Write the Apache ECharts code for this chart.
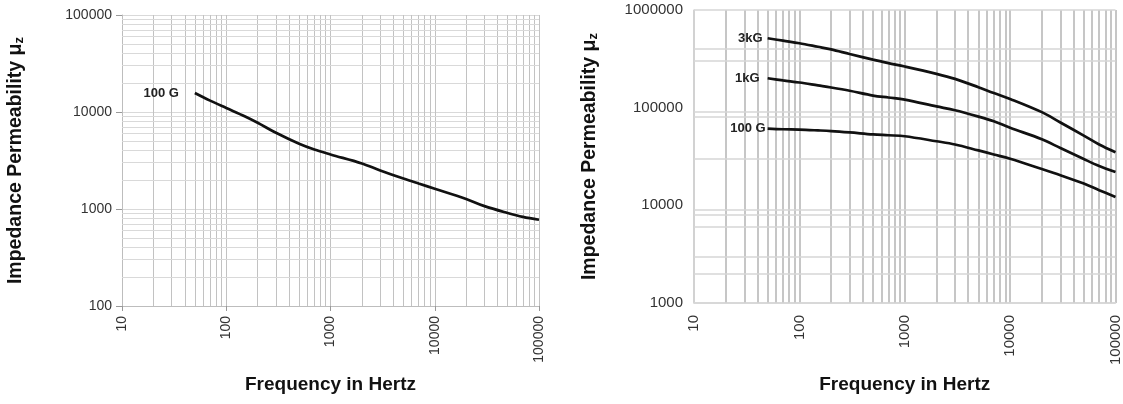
<!DOCTYPE html>
<html>
<head>
<meta charset="utf-8">
<script src="https://cdn.jsdelivr.net/npm/echarts@6/dist/echarts.min.js"></script>
<style>
  html, body { margin: 0; padding: 0; background: #fff; }
  #chart { width: 1123px; height: 404px; }
</style>
</head>
<body>
<div id="chart"></div>
<script>
// Frequencies (Hz) at which the permeability curves are sampled
const freqHz = [50, 70, 100, 150, 200, 300, 500, 700, 1000, 2000, 3000, 5000, 7000, 10000, 20000, 30000, 50000, 70000, 100000];

// Left panel: impedance permeability at 100 G
const left100G = [15700, 13100, 11000, 9050, 7750, 6100, 4700, 4100, 3650, 2950, 2500, 2060, 1830, 1620, 1270, 1070, 910, 830, 775];

// Right panel: impedance permeability at three flux levels
const right3kG  = [514000, 485000, 457000, 420000, 395000, 354000, 310000, 286000, 264000, 222000, 197000, 162000, 141000, 123000, 90000, 70500, 51800, 42000, 35000];
const right1kG  = [200000, 190000, 181000, 169000, 161000, 149000, 133000, 127000, 121000, 103000, 94000, 81000, 72500, 62300, 47500, 38600, 29800, 25300, 21900];
const right100G = [61000, 60100, 59600, 58500, 57600, 55800, 53300, 52200, 51000, 45300, 42000, 36500, 33200, 30000, 23500, 20300, 16700, 14300, 12200];

// Log-grid helpers
const minorSteps = [2, 3, 4, 5, 6, 7, 8, 9];
const freqDecades = [10, 100, 1000, 10000];
const leftPermDecades = [100, 1000, 10000];
// Horizontal rules printed on the right panel
const rightGridY = [1000000, 400000, 300000, 90000, 80000, 30000, 9000, 8000, 6000, 3000, 2000, 1000];

const FONT = 'Liberation Sans, Arial, sans-serif';

const minorOf = decades => decades.flatMap(d => minorSteps.map(m => d * m));
const pairs = (xs, ys) => xs.map((x, i) => [x, ys[i]]);
const plain = v => String(Math.round(v));

function curve(name, values, xi, labelDist) {
  return {
    name,
    type: 'line',
    xAxisIndex: xi,
    yAxisIndex: xi,
    data: pairs(freqHz, values),
    smooth: 0.35,
    showSymbol: true,
    symbol: 'circle',
    symbolSize: 0,
    z: 3,
    lineStyle: { color: '#111', width: 2.7 },
    itemStyle: { color: '#111' },
    label: {
      show: true,
      position: 'left',
      distance: labelDist,
      fontFamily: FONT,
      fontSize: 13,
      fontWeight: 'bold',
      color: '#222',
      formatter: p => (p.dataIndex === 0 ? name : '')
    },
    animation: false
  };
}

function gridRules(xVals, xStyle, yVals, yStyle) {
  return {
    silent: true,
    symbol: ['none', 'none'],
    label: { show: false },
    animation: false,
    z: 1,
    lineStyle: { type: 'solid' },
    data: [
      ...xVals.map(v => ({ xAxis: v, lineStyle: xStyle })),
      ...yVals.map(v => ({ yAxis: v, lineStyle: yStyle }))
    ]
  };
}

const yNameStyle = {
  fontFamily: FONT,
  fontSize: 19.5,
  fontWeight: 'bold',
  color: '#111',
  rich: {
    sub: { fontFamily: FONT, fontSize: 13, fontWeight: 'bold', color: '#111', padding: [7, 0, 0, 0] }
  }
};
const xNameStyle = { fontFamily: FONT, fontSize: 19, fontWeight: 'bold', color: '#111' };

const leftCurve = curve('100 G', left100G, 0, 16);
leftCurve.markLine = gridRules(
  minorOf(freqDecades), { color: '#c2c2c2', width: 1 },
  minorOf(leftPermDecades), { color: '#d9d9d9', width: 1 }
);

const r3 = curve('3kG', right3kG, 1, 5);
r3.markLine = gridRules(
  minorOf(freqDecades), { color: '#b3b3b3', width: 1.5 },
  rightGridY, { color: '#d6d6d6', width: 1.5 }
);

const option = {
  backgroundColor: '#fff',
  grid: [
    { left: 122, top: 15, width: 417, height: 291 },
    { left: 694, top: 10, width: 423, height: 293 }
  ],
  xAxis: [
    {
      gridIndex: 0, type: 'log', logBase: 10, min: 10, max: 100000,
      name: 'Frequency in Hertz', nameLocation: 'middle', nameGap: 69, nameTextStyle: xNameStyle,
      axisLine: { show: true, lineStyle: { color: '#bdbdbd', width: 1 } },
      axisTick: { show: true, length: 5, lineStyle: { color: '#999' } },
      axisLabel: { rotate: 90, fontFamily: FONT, fontSize: 14, color: '#333', margin: 10, formatter: plain },
      splitLine: { show: true, lineStyle: { color: '#c2c2c2', width: 1 } },
      minorTick: { show: false }, minorSplitLine: { show: false }
    },
    {
      gridIndex: 1, type: 'log', logBase: 10, min: 10, max: 100000,
      name: 'Frequency in Hertz', nameLocation: 'middle', nameGap: 72, nameTextStyle: xNameStyle,
      axisLine: { show: true, lineStyle: { color: '#d6d6d6', width: 1.5 } },
      axisTick: { show: false },
      axisLabel: { rotate: 90, fontFamily: FONT, fontSize: 15, color: '#333', margin: 12, formatter: plain },
      splitLine: { show: true, lineStyle: { color: '#b3b3b3', width: 1.5 } },
      minorTick: { show: false }, minorSplitLine: { show: false }
    }
  ],
  yAxis: [
    {
      gridIndex: 0, type: 'log', logBase: 10, min: 100, max: 100000,
      name: 'Impedance Permeability μ{sub|z}', nameLocation: 'middle', nameRotate: 90, nameGap: 96,
      nameTextStyle: yNameStyle,
      axisLine: { show: true, lineStyle: { color: '#bdbdbd', width: 1 } },
      axisTick: { show: true, length: 6, lineStyle: { color: '#999' } },
      axisLabel: { fontFamily: FONT, fontSize: 14, color: '#333', margin: 10, formatter: plain },
      splitLine: { show: true, lineStyle: { color: '#d9d9d9', width: 1 } },
      minorTick: { show: false }, minorSplitLine: { show: false }
    },
    {
      gridIndex: 1, type: 'log', logBase: 10, min: 1000, max: 1000000,
      name: 'Impedance Permeability μ{sub|z}', nameLocation: 'middle', nameRotate: 90, nameGap: 94,
      nameTextStyle: yNameStyle,
      axisLine: { show: true, lineStyle: { color: '#d6d6d6', width: 1.5 } },
      axisTick: { show: false },
      axisLabel: { fontFamily: FONT, fontSize: 15, color: '#333', margin: 11, formatter: plain },
      splitLine: { show: false },
      minorTick: { show: false }, minorSplitLine: { show: false }
    }
  ],
  series: [
    leftCurve,
    r3,
    curve('1kG', right1kG, 1, 8),
    curve('100 G', right100G, 1, 2)
  ]
};

const chart = echarts.init(document.getElementById('chart'), null, { renderer: 'canvas' });
chart.setOption(option);
</script>
</body>
</html>
